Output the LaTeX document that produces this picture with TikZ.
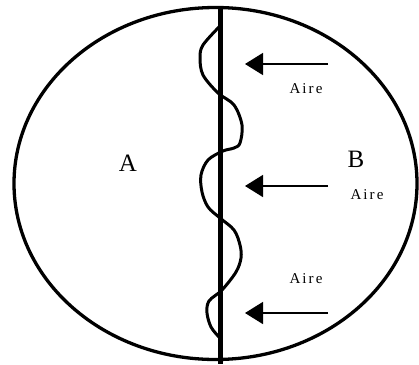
\documentclass[tikz,border=0pt]{standalone}
\usepackage{fontspec}
\setmainfont{Liberation Serif}
\newfontfamily\airefont[LetterSpace=14]{Liberation Serif}
\usetikzlibrary{arrows.meta}
\begin{document}
\begin{tikzpicture}[x=1pt,y=-1pt,
  outline/.style={line width=3.3pt},
  divider/.style={line width=4.2pt},
  wave/.style={line width=3pt,line cap=round,line join=round},
  wind/.style={line width=1.5pt,-{Triangle[length=18pt,width=22pt]}},
  airelabel/.style={font=\airefont\fontsize{15}{17}\selectfont,inner sep=0pt},
  zonelabel/.style={font=\fontsize{25}{28}\selectfont,inner sep=0pt}]
\useasboundingbox (0,0) rectangle (419,364);
\draw[outline] (215.5,183.5) ellipse [x radius=201.5, y radius=176];
\coordinate (ltop) at (220.5,7);
\coordinate (lbot) at (220.5,364);
\draw[divider] (ltop) -- (lbot);
\draw[wave] plot[smooth,tension=0.55] coordinates {
 (220,26) (203,45) (200,58) (203,75) (218,93) (234,105) (242,125) (240,143) (234,148)
 (223,151) (208,160) (201,175) (202,192) (208,207) (220,218) (234,230) (240,245) (241,258)
 (236,272) (222,290) (209,301) (207,313) (211,327) (219,337)};
\coordinate (w1s) at (328,64);
\coordinate (w1e) at (245,64);
\coordinate (w2s) at (328,186);
\coordinate (w2e) at (245,186);
\coordinate (w3s) at (328,313);
\coordinate (w3e) at (245,313);
\draw[wind] (w1s) -- (w1e);
\draw[wind] (w2s) -- (w2e);
\draw[wind] (w3s) -- (w3e);
\node[airelabel] (aire1) at (306,89) {Aire};
\node[airelabel] (aire2) at (367,195) {Aire};
\node[airelabel] (aire3) at (306,279) {Aire};
\node[zonelabel] (za) at (128,163) {A};
\node[zonelabel] (zb) at (356,159) {B};
\end{tikzpicture}
\end{document}
